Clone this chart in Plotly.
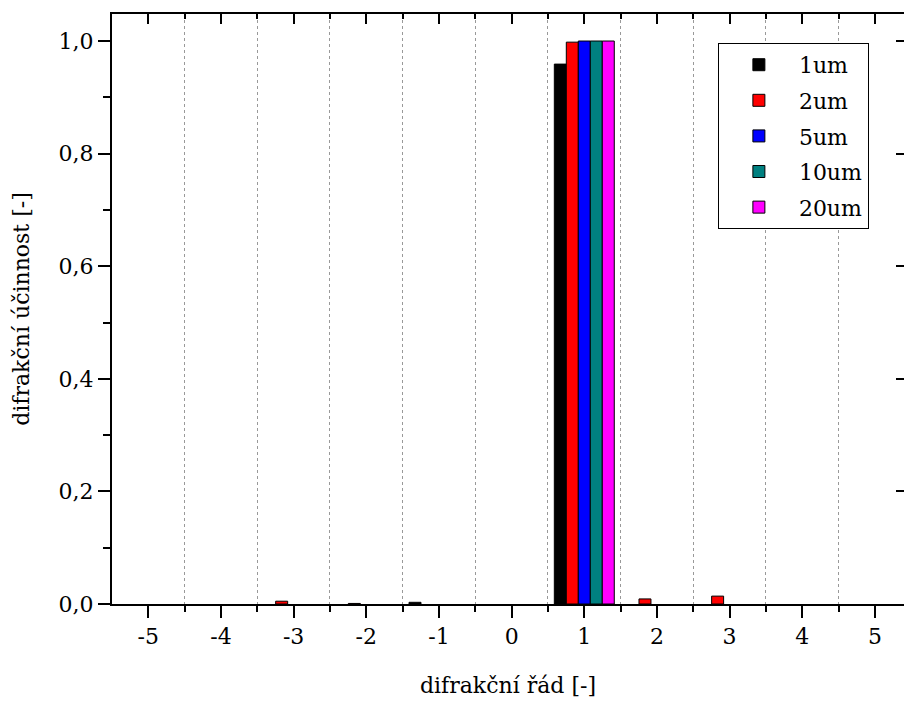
import plotly.graph_objects as go

orders = [-5, -4, -3, -2, -1, 0, 1, 2, 3, 4, 5]
tick_labels = ["-5", "-4", "-3", "-2", "-1", "0", "1", "2", "3", "4", "5"]
series_names = ["1um", "2um", "5um", "10um", "20um"]
colors = ["#000000", "#ff0000", "#0000ff", "#008080", "#ff00ff"]

# None = no visible bar at that order
eff_1um = [None, None, None, None, 0.003, None, 0.959, None, None, None, None]
eff_2um = [None, None, 0.005, 0.001, None, None, 0.998, 0.009, 0.014, None, None]
eff_5um = [None, None, None, None, None, None, 1.0, None, None, None, None]
eff_10um = [None, None, None, None, None, None, 1.0, None, None, None, None]
eff_20um = [None, None, None, None, None, None, 1.0, None, None, None, None]
all_series = [eff_1um, eff_2um, eff_5um, eff_10um, eff_20um]

font_family = "DejaVu Serif"

fig = go.Figure()
for name, vals, col in zip(series_names, all_series, colors):
    fig.add_trace(go.Bar(
        x=orders, y=vals, name=name, legendgroup=name,
        marker=dict(color=col, line=dict(color="#000000", width=1)),
    ))
# helper trace for the mirrored axes
fig.add_trace(go.Scatter(x=[], y=[], xaxis="x2", yaxis="y2", showlegend=False))

xr = [-5.5, 5.4]
yr = [0, 1.048]
half = [v + 0.5 for v in orders[:-1]]

fig.update_layout(
    width=904, height=701,
    margin=dict(l=112, r=0, t=14, b=97),
    paper_bgcolor="white", plot_bgcolor="white",
    barmode="group", bargap=0.175, bargroupgap=0,
    separators=",.",
    font=dict(family=font_family, size=22, color="#000000"),
    showlegend=True,
    legend=dict(
        x=0.765, y=0.951, xanchor="left", yanchor="top",
        bgcolor="white", bordercolor="#000000", borderwidth=1,
        font=dict(size=22, family=font_family),
        itemwidth=70, tracegroupgap=4,
    ),
    xaxis=dict(
        range=xr, tickmode="array", tickvals=orders, ticktext=tick_labels,
        ticks="outside", ticklen=12, tickwidth=2, tickcolor="#000000",
        showline=True, linecolor="#000000", linewidth=2,
        showgrid=False, zeroline=False,
        minor=dict(tickmode="array", tickvals=half, ticks="outside", ticklen=6,
                   tickwidth=2, tickcolor="#000000", showgrid=True,
                   gridcolor="#999999", griddash="dot", gridwidth=1),
        title=dict(text="difrakční řád [-]", standoff=29,
                   font=dict(size=22, family=font_family)),
        tickfont=dict(size=22, family=font_family),
    ),
    xaxis2=dict(
        range=xr, overlaying="x", side="top", anchor="y2",
        tickmode="array", tickvals=orders, showticklabels=False,
        ticks="inside", ticklen=10, tickwidth=2, tickcolor="#000000",
        showline=True, linecolor="#000000", linewidth=2,
        showgrid=False, zeroline=False,
        minor=dict(tickmode="array", tickvals=half, ticks="inside", ticklen=5,
                   tickwidth=2, tickcolor="#000000", showgrid=False),
    ),
    yaxis=dict(
        range=yr, tickmode="linear", tick0=0, dtick=0.2, tickformat=".1f",
        ticks="outside", ticklen=12, tickwidth=2, tickcolor="#000000",
        showline=True, linecolor="#000000", linewidth=2,
        showgrid=False, zeroline=False,
        minor=dict(dtick=0.1, ticks="outside", ticklen=7, tickwidth=2,
                   tickcolor="#000000", showgrid=False),
        title=dict(text="difrakční účinnost [-]", standoff=23,
                   font=dict(size=22, family=font_family)),
        tickfont=dict(size=22, family=font_family),
    ),
    yaxis2=dict(
        range=yr, overlaying="y", side="right", anchor="x2",
        tickmode="linear", tick0=0, dtick=0.2, showticklabels=False,
        ticks="inside", ticklen=8, tickwidth=2, tickcolor="#000000",
        showline=False, showgrid=False, zeroline=False,
    ),
)

fig.write_html("out.html")
